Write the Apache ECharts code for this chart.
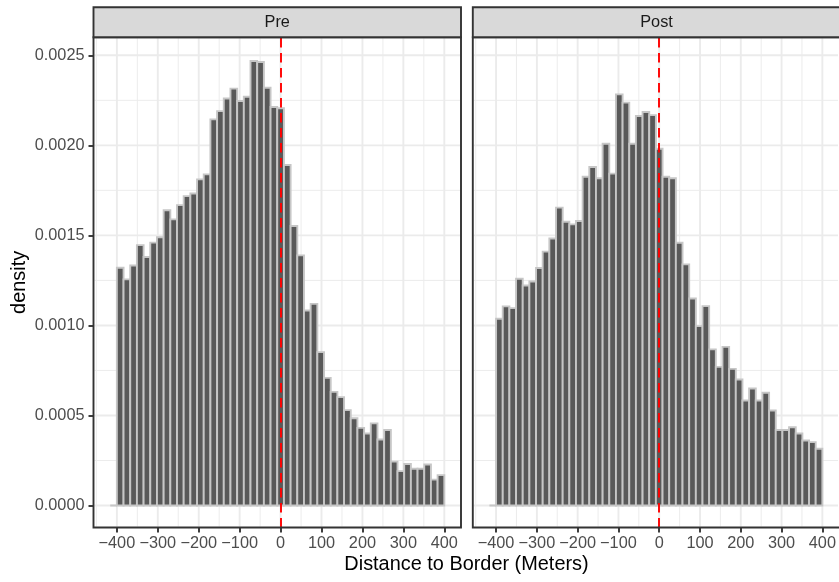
<!DOCTYPE html>
<html>
<head>
<meta charset="utf-8">
<script src="https://cdn.jsdelivr.net/npm/echarts@6/dist/echarts.min.js"></script>
<style>
  html, body { margin: 0; padding: 0; background: #ffffff; }
  #chart { width: 839px; height: 582px; }
</style>
</head>
<body>
<div id="chart"></div>
<script>
// Histogram bins: equal width, centred on multiples of the bin width (bin 0 is an empty bin)
const BIN_WIDTH = 800 / 49;
const binCenters = Array.from({ length: 50 }, (_, i) => (i - 25) * BIN_WIDTH);

const panels = ['Pre', 'Post'];

const preDensity = [
  0,
  0.00132, 0.001256, 0.001333, 0.001446, 0.00138, 0.00146, 0.00149, 0.00164,
  0.001589, 0.001668, 0.001718, 0.001733, 0.001811, 0.001839, 0.002144, 0.00219,
  0.00226, 0.002315, 0.002246, 0.00227, 0.002468, 0.002463, 0.00232, 0.002213,
  0.002206, 0.001891, 0.001552, 0.001389, 0.001083, 0.00112, 0.000852, 0.000709,
  0.000631, 0.000602, 0.00053, 0.000485, 0.000431, 0.0004, 0.000456, 0.000367,
  0.000419, 0.000244, 0.000191, 0.000231, 0.000204, 0.000204, 0.000228, 0.000144,
  0.000169
];

const postDensity = [
  0,
  0.001037, 0.001106, 0.001096, 0.001259, 0.001222, 0.001244, 0.001319, 0.00141,
  0.001483, 0.001654, 0.001576, 0.001561, 0.00158, 0.001826, 0.00188, 0.001817,
  0.002009, 0.001843, 0.002283, 0.002237, 0.002009, 0.002163, 0.002185, 0.002168,
  0.001981, 0.001826, 0.001817, 0.001459, 0.001339, 0.00115, 0.000996, 0.001107,
  0.000867, 0.00077, 0.000881, 0.000759, 0.0007, 0.000583, 0.00065, 0.000583,
  0.000626, 0.000528, 0.000419, 0.000419, 0.000435, 0.0004, 0.000361, 0.000352,
  0.000315
];

// Axis breaks
const xBreaks = [-400, -300, -200, -100, 0, 100, 200, 300, 400];
const xMinorBreaks = [-450, -350, -250, -150, -50, 50, 150, 250, 350];
const yBreaks = [0, 0.0005, 0.001, 0.0015, 0.002, 0.0025];
const yMinorBreaks = [0.00025, 0.00075, 0.00125, 0.00175, 0.00225];

// Border reference line
const borderLine = 0;

// Layout
const PANEL_TOP = 37.3;
const PANEL_HEIGHT = 490.2;
const PANEL_WIDTH = 367.5;
const PANEL_LEFTS = [93.5, 472.8];
const STRIP_TOP = 7.3;
const STRIP_HEIGHT = 30;
const X_RANGE = [-457.1, 440.8];
const Y_RANGE = [-0.000122, 0.0026];

const FONT = "'Liberation Sans', Arial, Helvetica, sans-serif";
const TEXT_SIZE = 16.3;
const TITLE_SIZE = 19.9;
const TICK_COLOR = '#333333';
const LINE_W = 1.9;

const chart = echarts.init(document.getElementById('chart'), null, { renderer: 'canvas' });

const fmtX = v => (v < 0 ? '\u2212' + Math.abs(v) : String(v));

function gridLineData() {
  const d = [];
  xMinorBreaks.forEach(v => d.push([0, v, 0]));
  yMinorBreaks.forEach(v => d.push([1, v, 0]));
  xBreaks.forEach(v => d.push([0, v, 1]));
  yBreaks.forEach(v => d.push([1, v, 1]));
  return d;
}

function renderGridLine(params, api) {
  const cs = params.coordSys;
  const dir = api.value(0);
  const v = api.value(1);
  const major = api.value(2) === 1;
  let shape;
  if (dir === 0) {
    const x = api.coord([v, 0])[0];
    if (x < cs.x + 1 || x > cs.x + cs.width - 1) return null;
    shape = { x1: x, y1: cs.y + 1, x2: x, y2: cs.y + cs.height - 1 };
  } else {
    const y = api.coord([0, v])[1];
    shape = { x1: cs.x + 1, y1: y, x2: cs.x + cs.width - 1, y2: y };
  }
  return {
    type: 'line',
    shape,
    style: { stroke: '#EBEBEB', lineWidth: major ? LINE_W : LINE_W / 2 }
  };
}

function renderBar(params, api) {
  const x0 = api.value(0), x1 = api.value(1), v = api.value(2);
  const p0 = api.coord([x0, v]);
  const p1 = api.coord([x1, 0]);
  return {
    type: 'rect',
    shape: { x: p0[0], y: p0[1], width: p1[0] - p0[0], height: p1[1] - p0[1] },
    style: { fill: '#595959', stroke: '#C6C6C6', lineWidth: LINE_W }
  };
}

const grids = [], xAxes = [], yAxes = [], series = [], graphics = [];

[preDensity, postDensity].forEach((values, i) => {
  grids.push({
    left: PANEL_LEFTS[i], top: PANEL_TOP, width: PANEL_WIDTH, height: PANEL_HEIGHT,
    show: false, containLabel: false
  });
  xAxes.push({
    type: 'value', gridIndex: i, min: X_RANGE[0], max: X_RANGE[1], position: 'bottom',
    axisLine: { show: false, onZero: false },
    splitLine: { show: false },
    axisTick: { show: true, customValues: xBreaks, length: 5, lineStyle: { color: TICK_COLOR, width: LINE_W } },
    axisLabel: {
      show: true, customValues: xBreaks, formatter: fmtX, margin: 8,
      color: '#4D4D4D', fontSize: TEXT_SIZE, fontFamily: FONT
    }
  });
  yAxes.push({
    type: 'value', gridIndex: i, min: Y_RANGE[0], max: Y_RANGE[1], position: 'left',
    axisLine: { show: false, onZero: false },
    splitLine: { show: false },
    axisTick: { show: i === 0, customValues: yBreaks, length: 5, lineStyle: { color: TICK_COLOR, width: LINE_W } },
    axisLabel: {
      show: i === 0, customValues: yBreaks, formatter: v => v.toFixed(4), margin: 9,
      color: '#4D4D4D', fontSize: TEXT_SIZE, fontFamily: FONT
    }
  });
  series.push({
    type: 'custom', name: panels[i] + ' grid', xAxisIndex: i, yAxisIndex: i,
    silent: true, z: 1,
    renderItem: renderGridLine,
    data: gridLineData()
  });
  series.push({
    type: 'custom', name: panels[i], xAxisIndex: i, yAxisIndex: i,
    silent: true, z: 2,
    encode: { x: [0, 1], y: 2 },
    renderItem: renderBar,
    data: binCenters.map((c, k) => [c - BIN_WIDTH / 2, c + BIN_WIDTH / 2, values[k]]),
    markLine: {
      silent: true, symbol: 'none', animation: false,
      label: { show: false },
      lineStyle: { color: '#FF0000', width: LINE_W, type: [9.5, 5.5], cap: 'butt' },
      data: [{ xAxis: borderLine }]
    }
  });

  // panel border
  graphics.push({
    type: 'rect', z: 100, silent: true,
    shape: { x: PANEL_LEFTS[i], y: PANEL_TOP, width: PANEL_WIDTH, height: PANEL_HEIGHT },
    style: { fill: 'none', stroke: '#333333', lineWidth: LINE_W }
  });
  // facet strip
  graphics.push({
    type: 'rect', z: 100, silent: true,
    shape: { x: PANEL_LEFTS[i], y: STRIP_TOP, width: PANEL_WIDTH, height: STRIP_HEIGHT },
    style: { fill: '#D9D9D9', stroke: '#333333', lineWidth: LINE_W }
  });
  graphics.push({
    type: 'text', z: 101, silent: true,
    x: PANEL_LEFTS[i] + PANEL_WIDTH / 2, y: STRIP_TOP + STRIP_HEIGHT / 2 + 0.5,
    style: {
      text: panels[i], fill: '#1A1A1A', font: TEXT_SIZE + 'px ' + FONT,
      align: 'center', verticalAlign: 'middle'
    }
  });
});

// axis titles
graphics.push({
  type: 'text', z: 101, silent: true,
  x: 466.5, y: 565,
  style: {
    text: 'Distance to Border (Meters)', fill: '#000000', font: TITLE_SIZE + 'px ' + FONT,
    align: 'center', verticalAlign: 'middle'
  }
});
graphics.push({
  type: 'text', z: 101, silent: true,
  x: 20, y: PANEL_TOP + PANEL_HEIGHT / 2,
  rotation: Math.PI / 2,
  style: {
    text: 'density', fill: '#000000', font: TITLE_SIZE + 'px ' + FONT,
    align: 'center', verticalAlign: 'middle'
  }
});

chart.setOption({
  animation: false,
  backgroundColor: '#ffffff',
  grid: grids,
  xAxis: xAxes,
  yAxis: yAxes,
  series: series,
  graphic: { elements: graphics }
});
</script>
</body>
</html>
